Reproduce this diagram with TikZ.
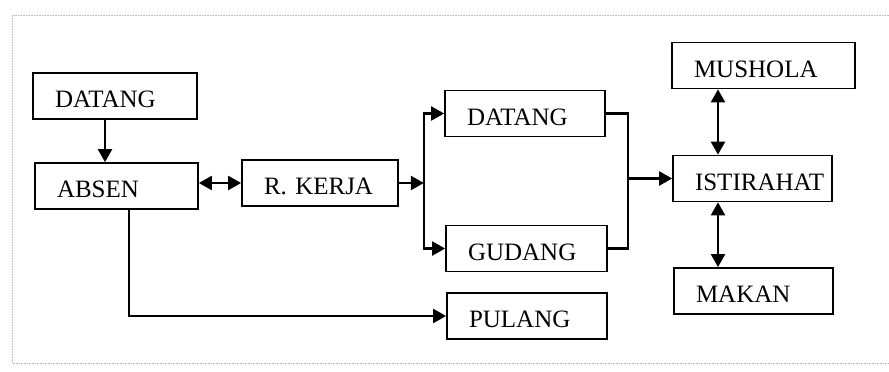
\documentclass[tikz,border=0pt]{standalone}
\usepackage{fontspec}
\setmainfont{Liberation Serif}
\usetikzlibrary{arrows.meta}

\tikzset{%
  >={Triangle[length=13pt,width=14pt]},
  box/.style={draw, line width=1.7pt, inner xsep=22pt, inner ysep=0pt,
    minimum height=46pt, align=left, text height=23pt, text depth=0pt,
    font=\fontsize{25}{30}\selectfont}
}

\begin{document}
\begin{tikzpicture}[x=1pt, y=-1pt, line width=2.2pt]
     \useasboundingbox (0,0) rectangle (889,372);
     % faint frame of the scan
     \draw[gray!55, densely dotted, line width=0.6pt] (889,15) -- (12,15) -- (12,363) -- (889,363);

     \foreach \n/\x/\y/\w/\t in
       { datangA/115/96/120/DATANG,
         absen/116.5/186/119/ABSEN,
         kerja/320/183/112/R.~KERJA,
         datangB/525/113.5/116/DATANG,
         gudang/526.5/248.5/117/GUDANG,
         pulang/527/316/116/PULANG,
         mushola/763.5/65.5/139/MUSHOLA,
         istirahat/752.5/178.5/115/ISTIRAHAT,
         makan/753.5/291/115/MAKAN
       }
       \node[box, text width=\w pt] (\n) at (\x,\y) {\t};

     \draw[->] ([xshift=-10pt]datangA.south) -- ([xshift=-10pt]datangA.south |- absen.north);
     \draw[<->] (kerja.west -| absen.east) -- (kerja.west);
     \draw[->] (kerja.east) -- ++(25,0) coordinate (split);
     \draw[->] (split) |- (datangB.west);
     \draw[->] (split) |- (gudang.west);
     \draw[->] ([xshift=12.5pt]absen.south) |- (pulang.west);

     \coordinate (merge) at ([xshift=-44pt]istirahat.west);
     \draw (datangB.east) -| (merge) |- (gudang.east);
     \draw[->] (merge) -- (istirahat.west);

     \draw[<->] ([xshift=-34.5pt]istirahat.north |- mushola.south) -- ([xshift=-34.5pt]istirahat.north);
     \draw[<->] ([xshift=-34.5pt]istirahat.south) -- ([xshift=-34.5pt]istirahat.south |- makan.north);

\end{tikzpicture}
\end{document}
